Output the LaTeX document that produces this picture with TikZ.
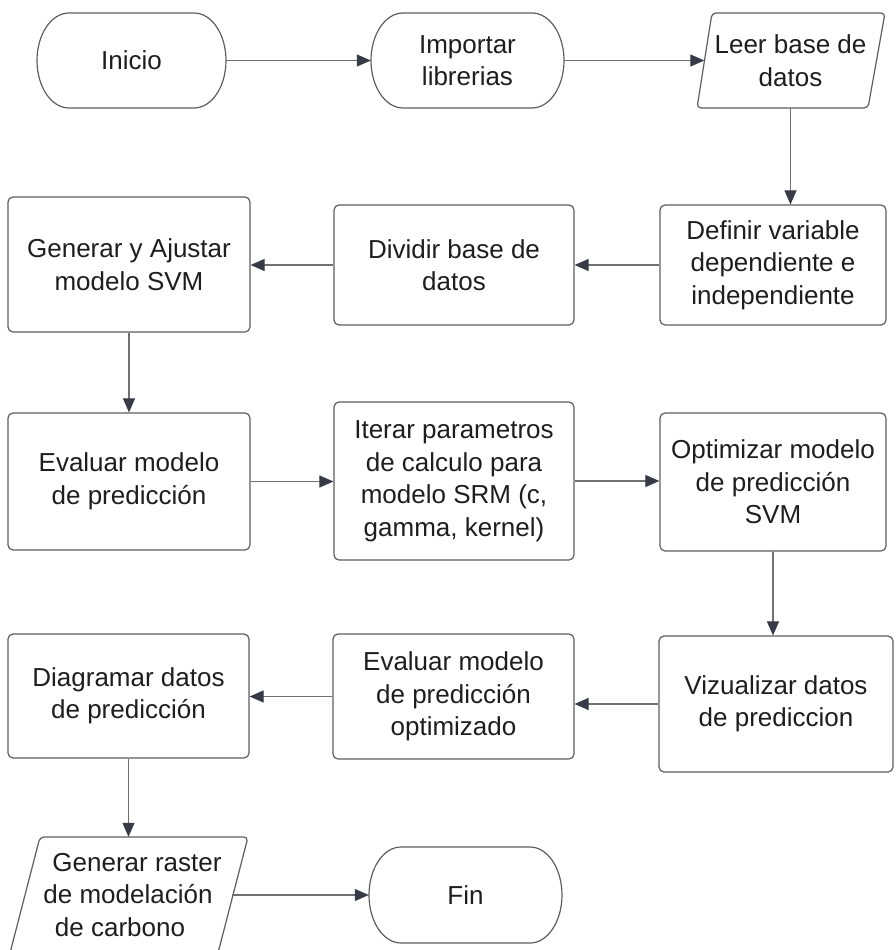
\documentclass[tikz,border=0pt]{standalone}
\usepackage{fontspec}
\setmainfont{Liberation Sans}
\usetikzlibrary{arrows.meta,calc}
\definecolor{linec}{HTML}{707070}
\definecolor{boxc}{HTML}{5E5E5E}
\definecolor{tipc}{HTML}{363B47}
\definecolor{txtc}{HTML}{1E1E1E}
\tikzset{
  lbl/.style={align=center, text=txtc, font=\fontsize{26}{32.5}\selectfont, inner sep=0pt},
  procbox/.style={lbl, draw=boxc, line width=1.2pt, rounded corners=5pt},
  outl/.style={draw=boxc, line width=1.2pt},
  conn/.style={draw=linec, line width=1.1pt, -{Triangle[length=14pt,width=12pt,color=tipc]}}
}
\begin{document}
\begin{tikzpicture}[x=1pt,y=-1pt]
\path[fill=white] (0,0) rectangle (895,950);
\useasboundingbox (0,0) rectangle (895,950);

% terminals and data shapes (outlines)
\draw[outl] (69,13) -- (194,13) arc[start angle=-90,end angle=90,x radius=32,y radius=47.5]
  -- (69,108) arc[start angle=90,end angle=270,x radius=32,y radius=47.5] -- cycle;
\draw[outl] (403,13) -- (532,13) arc[start angle=-90,end angle=90,x radius=32,y radius=47.5]
  -- (403,108) arc[start angle=90,end angle=270,x radius=32,y radius=47.5] -- cycle;
\draw[outl] (401,847) -- (530,847) arc[start angle=-90,end angle=90,x radius=32,y radius=48]
  -- (401,943) arc[start angle=90,end angle=270,x radius=32,y radius=48] -- cycle;
\draw[outl, rounded corners=4pt] (712,13) -- (885,13) -- (868,108) -- (697,108) -- cycle;
\draw[outl, rounded corners=4pt] (40,837) -- (248,837) -- (218,953) -- (10,953) -- cycle;

% nodes
\node[lbl, minimum width=189pt, minimum height=95pt] (ini) at (131.5,60.5) {Inicio};
\node[lbl, minimum width=193pt, minimum height=95pt] (imp) at (467.5,60.5) {Importar\\librerias};
\node[lbl, minimum width=172pt, minimum height=95pt] (leer) at (790.5,60.5) {Leer base de\\datos};
\node[procbox, minimum width=226pt, minimum height=120pt] (def) at (773,265) {Definir variable\\dependiente e\\independiente};
\node[procbox, minimum width=240pt, minimum height=120pt] (div) at (454,265) {Dividir base de\\datos};
\node[procbox, minimum width=242pt, minimum height=135pt] (gen) at (129,264.5) {Generar y Ajustar\\modelo SVM};
\node[procbox, minimum width=242pt, minimum height=137pt] (eva) at (129,481.5) {Evaluar modelo\\de predicción};
\node[procbox, minimum width=240pt, minimum height=158pt] (ite) at (454,481) {Iterar parametros\\de calculo para\\modelo SRM (c,\\gamma, kernel)};
\node[procbox, minimum width=226pt, minimum height=138pt] (opt) at (773,482) {Optimizar modelo\\de predicción\\SVM};
\node[procbox, minimum width=234pt, minimum height=136pt] (viz) at (776,704) {Vizualizar datos\\de prediccion};
\node[procbox, minimum width=241pt, minimum height=125pt] (evo) at (453.5,696.5) {Evaluar modelo\\de predicción\\optimizado};
\node[procbox, minimum width=241pt, minimum height=124pt] (dia) at (128.5,696) {Diagramar datos\\de predicción};
\node[lbl, minimum width=208pt, minimum height=116pt] (ras) at (128,895) {\hspace*{18pt}Generar raster\\de modelación\\de carbono\hspace*{16pt}};
\node[lbl, minimum width=193pt, minimum height=96pt] (fin) at (465.5,895) {Fin};

% connectors
\draw[conn] (ini.east) -- (imp.west);
\draw[conn] (imp.east) -- (leer.west);
\draw[conn] (leer.south) -- (leer.south |- def.north);
\draw[conn] (def.west) -- (div.east);
\draw[conn] (div.west) -- (div.west -| gen.east);
\draw[conn] (gen.south) -- (eva.north);
\draw[conn] (eva.east) -- (eva.east -| ite.west);
\draw[conn] (ite.east) -- (ite.east -| opt.west);
\draw[conn] (opt.south) -- (opt.south |- viz.north);
\draw[conn] (viz.west) -- (viz.west -| evo.east);
\draw[conn] (evo.west) -- (evo.west -| dia.east);
\draw[conn] (dia.south) -- (dia.south |- ras.north);
\draw[conn] (ras.east) -- (fin.west);
\end{tikzpicture}
\end{document}
